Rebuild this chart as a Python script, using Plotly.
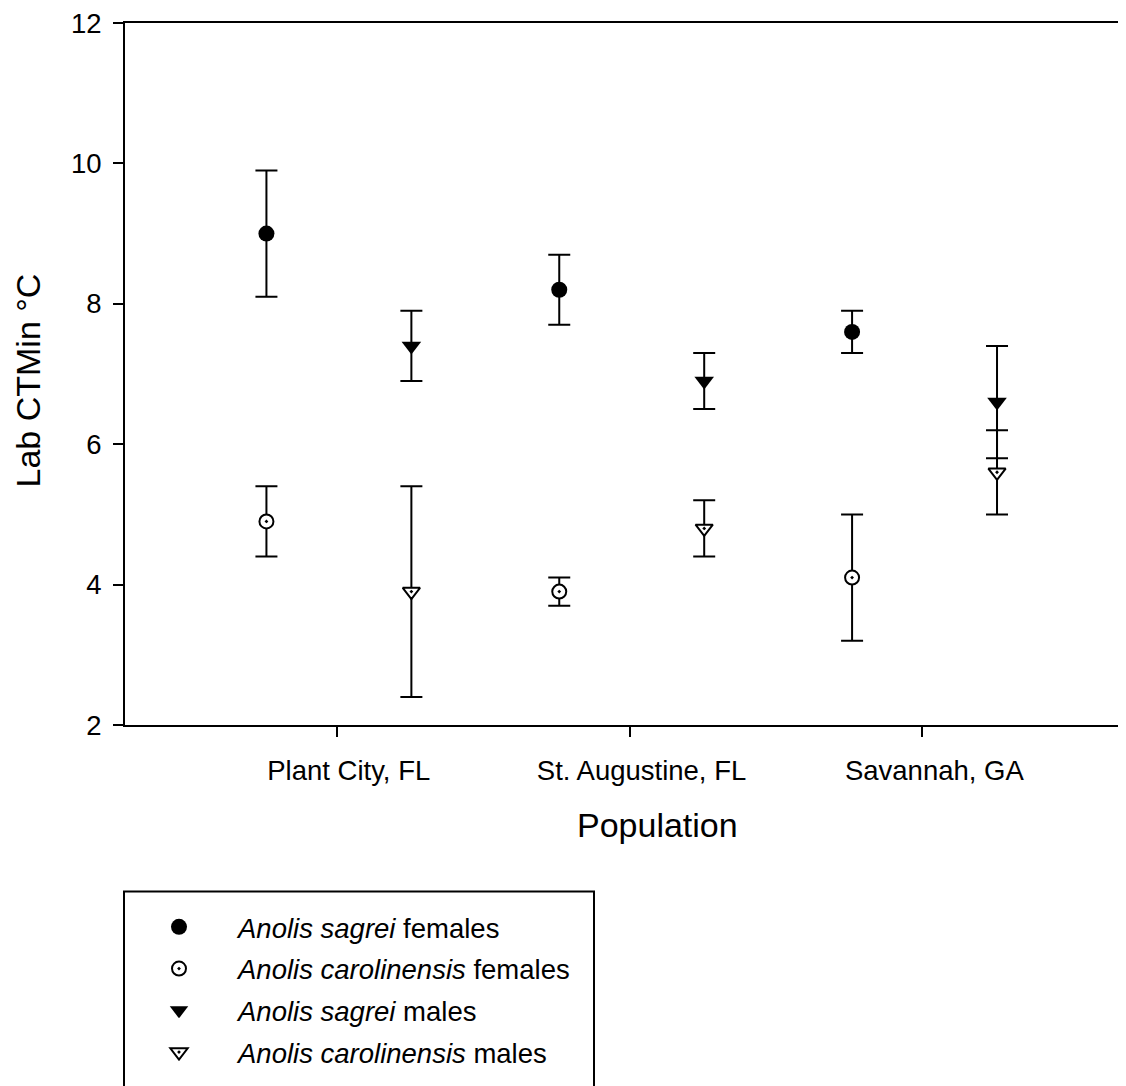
import plotly.graph_objects as go

# ---------------- data ----------------
populations = ["Plant City, FL", "St. Augustine, FL", "Savannah, GA"]

series_names = [
    "<i>Anolis sagrei</i> females",
    "<i>Anolis carolinensis</i> females",
    "<i>Anolis sagrei</i> males",
    "<i>Anolis carolinensis</i> males",
]
sagrei_f_mean = [9.0, 8.2, 7.6]
sagrei_f_err = [0.9, 0.5, 0.3]
carol_f_mean = [4.9, 3.9, 4.1]
carol_f_err = [0.5, 0.2, 0.9]
sagrei_m_mean = [7.4, 6.9, 6.6]
sagrei_m_err = [0.5, 0.4, 0.8]
carol_m_mean = [3.9, 4.8, 5.6]
carol_m_err = [1.5, 0.4, 0.6]

y_ticks = [2, 4, 6, 8, 10, 12]

# ---------------- layout constants ----------------
FONT = "Liberation Sans, Arial, sans-serif"
OFF = 8                      # page body margin
W, H = 1126 - OFF, 1086 - OFF
PLOT_L, PLOT_T, PLOT_B = 125, 19.5, 725.5   # target page pixel positions
ML, MR, MT = PLOT_L - OFF, 0, PLOT_T - OFF
MB = H - (PLOT_B - OFF)
F_OFF, M_OFF = -0.24, 0.255
XRANGE = [0.277, 3.723 - OFF / 290.5]

cat_pos = [i + 1 for i in range(len(populations))]

def px_to_paper_x(px):
    return (px - OFF - ML) / (W - ML - MR)

def px_to_paper_y(py):
    return (H - MB - (py - OFF)) / (H - MB - MT)

fig = go.Figure()

specs = [
    (series_names[0], sagrei_f_mean, sagrei_f_err, F_OFF,
     dict(symbol="circle", size=16, color="black", line=dict(width=0))),
    (series_names[1], carol_f_mean, carol_f_err, F_OFF,
     dict(symbol="circle-dot", size=14, color="white", line=dict(color="black", width=2))),
    (series_names[2], sagrei_m_mean, sagrei_m_err, M_OFF,
     dict(symbol="triangle-down", size=17, color="black", line=dict(width=0))),
    (series_names[3], carol_m_mean, carol_m_err, M_OFF,
     dict(symbol="triangle-down-dot", size=15, color="white", line=dict(color="black", width=2))),
]

for name, mean, err, off, mk in specs:
    fig.add_trace(go.Scatter(
        x=[c + off for c in cat_pos],
        y=mean,
        mode="markers",
        name=name,
        marker=mk,
        error_y=dict(type="data", array=err, visible=True, color="black",
                     thickness=2, width=11),
        legendgroup=name,
    ))

fig.update_layout(
    width=W, height=H,
    margin=dict(l=ML, r=MR, t=MT, b=MB, pad=0),
    plot_bgcolor="white", paper_bgcolor="white",
    font=dict(family=FONT, size=27.5, color="black"),
    showlegend=True,
    legend=dict(
        x=px_to_paper_x(120), y=px_to_paper_y(904),
        xanchor="left", yanchor="top",
        bgcolor="rgba(0,0,0,0)", borderwidth=0,
        font=dict(family=FONT, size=27.5, color="black"),
        tracegroupgap=3,
        traceorder="grouped",
        itemsizing="trace",
        itemwidth=108,
    ),
    xaxis=dict(
        range=XRANGE, tickmode="array", tickvals=cat_pos, ticktext=populations,
        showline=True, linecolor="black", linewidth=2, mirror=True,
        ticks="outside", ticklen=10, tickwidth=1.5, tickcolor="black",
        showgrid=False, zeroline=False,
        tickfont=dict(family=FONT, size=27.5, color="black"),
        ticklabelshift=12, ticklabelstandoff=10,
        ticklabeloverflow="allow",
    ),
    yaxis=dict(
        range=[2, 12], tickmode="array", tickvals=y_ticks,
        showline=True, linecolor="black", linewidth=2, mirror=False,
        ticks="outside", ticklen=10, tickwidth=2, tickcolor="black",
        showgrid=False, zeroline=False,
        tickfont=dict(family=FONT, size=27.5, color="black"),
        ticklabelstandoff=6,
        ticklabeloverflow="allow",
    ),
    shapes=[
        dict(type="rect", xref="paper", yref="paper",
             x0=px_to_paper_x(124), x1=px_to_paper_x(594),
             y0=px_to_paper_y(893), y1=px_to_paper_y(1200),
             line=dict(color="black", width=2), fillcolor="rgba(0,0,0,0)",
             layer="above"),
    ],
    annotations=[
        dict(text="Lab CTMin °C", xref="paper", yref="paper",
             x=px_to_paper_x(28), y=px_to_paper_y(379),
             xanchor="center", yanchor="middle", textangle=-90, showarrow=False,
             font=dict(family=FONT, size=34, color="black")),
        dict(text="Population", xref="paper", yref="paper",
             x=px_to_paper_x(657), y=px_to_paper_y(826),
             xanchor="center", yanchor="middle", showarrow=False,
             font=dict(family=FONT, size=34, color="black")),
    ],
)

fig.write_html("out.html")
